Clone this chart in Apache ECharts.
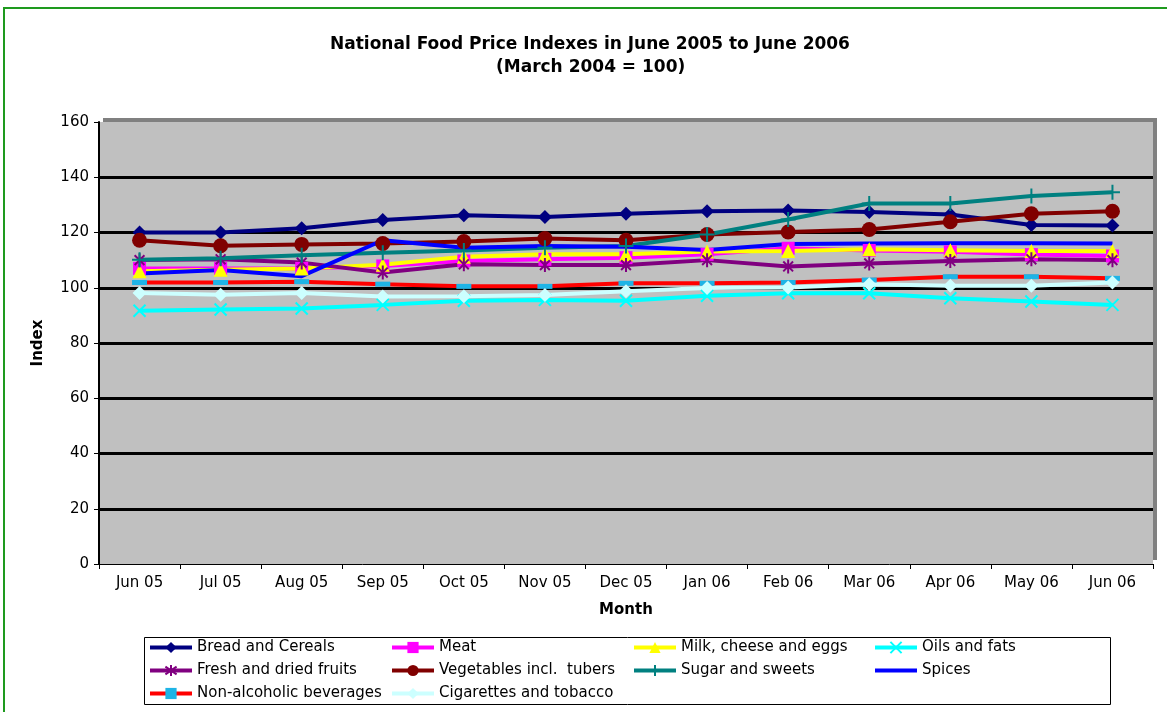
<!DOCTYPE html>
<html>
<head>
<meta charset="utf-8">
<title>National Food Price Indexes</title>
<script src="https://cdn.jsdelivr.net/npm/echarts@6/dist/echarts.min.js"></script>
<style>
  html, body { margin: 0; padding: 0; background: #fff; }
  #chart { width: 1167px; height: 712px; }
</style>
</head>
<body>
<div id="chart"></div>
<script>
// categories
var months = ['Jun 05', 'Jul 05', 'Aug 05', 'Sep 05', 'Oct 05', 'Nov 05', 'Dec 05',
              'Jan 06', 'Feb 06', 'Mar 06', 'Apr 06', 'May 06', 'Jun 06'];

// index values
var breadCereals = [120, 120, 121.5, 124.5, 126.2, 125.6, 126.8, 127.7, 128, 127.4, 126.5, 122.7, 122.5];
var meat         = [107, 107, 107, 107.9, 109.7, 110.3, 110.9, 112.1, 114.3, 113.5, 113, 112, 111.5];
var milkEggs     = [106, 106.5, 107, 108.3, 111.2, 112.1, 112.1, 113.1, 113.3, 113.9, 113.6, 113.3, 113.3];
var oilsFats     = [91.7, 92.1, 92.5, 93.8, 95.3, 95.6, 95.3, 97.1, 98, 98, 96.2, 95, 93.8];
var fruits       = [110, 110.3, 109.1, 105.5, 108.5, 108.2, 108.2, 110, 107.7, 108.8, 109.7, 110.3, 110];
var vegetables   = [117.2, 115.2, 115.7, 116, 116.7, 117.8, 117.2, 119.3, 120.2, 121.1, 123.9, 126.8, 127.7];
var sugarSweets  = [110.1, 110.7, 111.8, 112.7, 113.5, 114.5, 115.1, 119.3, 124.7, 130.5, 130.5, 133.2, 134.6];
var spices       = [105.2, 106.4, 104.2, 117.2, 114.5, 115.1, 114.8, 113.7, 115.8, 116, 116.1, 116.1, 116];
var beverages    = [101.9, 101.9, 102.2, 101.3, 100.5, 100.5, 101.6, 101.6, 101.9, 102.8, 104, 104, 103.4];
var cigarettes   = [98.1, 97.5, 98.1, 96.8, 96.9, 97.4, 98.7, 99.9, 100.1, 101.3, 100.7, 100.7, 101.9];

// y axis ticks
var yMin = 0, yMax = 160, yStep = 20;

var FONT = 'DejaVu Sans, Liberation Sans, sans-serif';

// symbols drawn as strokes
var xMark = 'path://M0,0L10,10M10,0L0,10';
var starMark = 'path://M5,0L5,10M1.5,1.5L8.5,8.5M8.5,1.5L1.5,8.5';
var plusMark = 'path://M0,5L10,5M5,0L5,10';

function mkSeries(name, data, color, symbol, size, opts) {
    opts = opts || {};
    return {
        name: name,
        type: 'line',
        data: data,
        symbol: symbol,
        symbolSize: size,
        showSymbol: symbol !== 'none',
        symbolKeepAspect: true,
        lineStyle: { color: color, width: 4 },
        itemStyle: {
            color: opts.markerColor || color,
            borderColor: opts.markerColor || color,
            borderWidth: opts.stroke ? 2 : 0
        },
        emphasis: { disabled: true },
        animation: false
    };
}

var chart = echarts.init(document.getElementById('chart'));

var legendBase = {
    orient: 'vertical',
    top: 640,
    padding: 0,
    itemWidth: 42,
    itemHeight: 14,
    itemGap: 8,
    selectedMode: false,
    lineStyle: { width: 4 },
    textStyle: { fontFamily: FONT, fontSize: 15, color: '#000' }
};

var lineOnly = 'path://M0,0L40,0L40,4L0,4Z';

var option = {
    backgroundColor: '#fff',
    title: [{
        text: 'National Food Price Indexes in June 2005 to June 2006',
        left: 330,
        top: 36,
        padding: 0,
        textStyle: { fontFamily: FONT, fontSize: 17, fontWeight: 'bold', color: '#000' }
    }, {
        text: '(March 2004 = 100)',
        left: 496,
        top: 59,
        padding: 0,
        textStyle: { fontFamily: FONT, fontSize: 17, fontWeight: 'bold', color: '#000' }
    }],
    legend: [
        Object.assign({}, legendBase, { left: 148, data: ['Bread and Cereals', 'Fresh and dried fruits', 'Non-alcoholic beverages'] }),
        Object.assign({}, legendBase, { left: 390, data: ['Meat', 'Vegetables incl.  tubers', 'Cigarettes and tobacco'] }),
        Object.assign({}, legendBase, { left: 632, data: ['Milk, cheese and eggs', 'Sugar and sweets'] }),
        Object.assign({}, legendBase, { left: 873, data: ['Oils and fats', { name: 'Spices', icon: lineOnly }] })
    ],
    grid: {
        left: 99,
        top: 122,
        right: 14,
        bottom: 148,
        show: true,
        backgroundColor: '#C0C0C0',
        borderWidth: 0,
        shadowColor: '#808080',
        shadowBlur: 0,
        shadowOffsetX: 4,
        shadowOffsetY: -4,
        containLabel: false
    },
    xAxis: {
        type: 'category',
        data: months,
        boundaryGap: true,
        name: 'Month',
        nameLocation: 'middle',
        nameGap: 39,
        nameTextStyle: { fontFamily: FONT, fontSize: 15, fontWeight: 'bold', color: '#000' },
        axisLine: { lineStyle: { color: '#000', width: 1 } },
        axisTick: { show: true, length: 5, lineStyle: { color: '#000' } },
        axisLabel: { fontFamily: FONT, fontSize: 15, color: '#000', margin: 12, interval: 0 },
        splitLine: { show: false }
    },
    yAxis: {
        type: 'value',
        min: yMin,
        max: yMax,
        interval: yStep,
        name: 'Index',
        nameLocation: 'middle',
        nameGap: 53,
        nameRotate: 90,
        nameTextStyle: { fontFamily: FONT, fontSize: 15, fontWeight: 'bold', color: '#000' },
        axisLine: { show: true, lineStyle: { color: '#000', width: 2 } },
        axisTick: { show: true, length: 5, lineStyle: { color: '#000' } },
        axisLabel: { fontFamily: FONT, fontSize: 15, color: '#000', margin: 10 },
        splitLine: { show: true, showMinLine: false, showMaxLine: false, lineStyle: { color: '#000', width: 3 } }
    },
    graphic: [{
        type: 'rect',
        shape: { x: 4, y: 8, width: 1200, height: 800 },
        style: { fill: 'none', stroke: '#1E9A1E', lineWidth: 2 },
        silent: true,
        z: -10
    }, {
        type: 'rect',
        shape: { x: 144.5, y: 637.5, width: 966, height: 67 },
        style: { fill: 'none', stroke: '#000', lineWidth: 1 },
        silent: true
    }],
    series: [
        mkSeries('Bread and Cereals', breadCereals, '#000080', 'diamond', 14),
        mkSeries('Meat', meat, '#FF00FF', 'rect', 13),
        mkSeries('Milk, cheese and eggs', milkEggs, '#FFFF00', 'triangle', 14),
        mkSeries('Oils and fats', oilsFats, '#00FFFF', xMark, 12, { stroke: true }),
        mkSeries('Fresh and dried fruits', fruits, '#800080', starMark, 14, { stroke: true }),
        mkSeries('Vegetables incl.  tubers', vegetables, '#800000', 'circle', 15),
        mkSeries('Sugar and sweets', sugarSweets, '#008080', plusMark, 15, { stroke: true }),
        mkSeries('Spices', spices, '#0000FF', 'none', 1),
        mkSeries('Non-alcoholic beverages', beverages, '#FF0000', 'rect', [15, 5], { markerColor: '#1EB4E6' }),
        mkSeries('Cigarettes and tobacco', cigarettes, '#CCFFFF', 'diamond', 14)
    ]
};

chart.setOption(option);
</script>
</body>
</html>
